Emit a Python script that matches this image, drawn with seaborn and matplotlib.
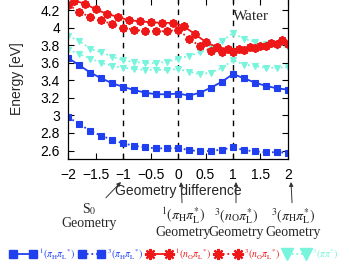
import matplotlib
matplotlib.use("Agg")
import matplotlib.pyplot as plt
import seaborn as sns
from matplotlib.lines import Line2D

# ---- data ----
x_even = [-2.0, -1.8, -1.6, -1.4, -1.2, -1.0, -0.8, -0.6, -0.4, -0.2, 0.0,
          0.2, 0.4, 0.6, 0.8, 1.0, 1.2, 1.4, 1.6, 1.8, 2.0]
x_odd = [-1.9, -1.7, -1.5, -1.3, -1.1, -0.9, -0.7, -0.5, -0.3, -0.1,
         0.1, 0.3, 0.5, 0.7, 0.9, 1.1, 1.3, 1.5, 1.7, 1.9]

s_pipi = [3.655, 3.572, 3.489, 3.424, 3.367, 3.326, 3.29, 3.26, 3.242, 3.242, 3.25,
          3.227, 3.26, 3.318, 3.386, 3.473, 3.424, 3.375, 3.337, 3.31, 3.295]
t_pipi = [2.98, 2.90, 2.825, 2.768, 2.723, 2.68, 2.655, 2.636, 2.625, 2.625, 2.628,
          2.605, 2.59, 2.595, 2.61, 2.636, 2.605, 2.59, 2.58, 2.58, 2.575]
s_npi = [4.31, 4.277, 4.21, 4.16, 4.125, 4.087, 4.076, 4.064, 4.057, 4.057,
         4.02, 3.93, 3.84, 3.78, 3.76, 3.76, 3.78, 3.79, 3.83, 3.86]
t_npi = [4.265, 4.18, 4.125, 4.087, 4.04, 4.0, 3.98, 3.962, 3.962, 3.962, 3.98,
         3.875, 3.79, 3.735, 3.73, 3.73, 3.75, 3.77, 3.79, 3.81, 3.82]
pipi_a = [3.905, 3.85, 3.76, 3.72, 3.67, 3.63, 3.61, 3.60, 3.60, 3.61, 3.65,
          3.68, 3.72, 3.77, 3.85, 3.94, 3.875, 3.84, 3.81, 3.79, 3.78]
pipi_b = [3.75, 3.70, 3.65, 3.60, 3.565, 3.545, 3.53, 3.52, 3.52, 3.52, 3.53,
          3.50, 3.47, 3.49, 3.545, 3.63, 3.58, 3.565, 3.545, 3.545, 3.55]

labels = [r"$^1(\pi_{\rm H}\pi_{\rm L}{}^{*})$", r"$^3(\pi_{\rm H}\pi_{\rm L}{}^{*})$",
          r"$^1(n_{\rm O}\pi_{\rm L}{}^{*})$", r"$^3(n_{\rm O}\pi_{\rm L}{}^{*})$",
          r"$^3(\pi\pi^{*})$"]
xticks = [-2, -1.5, -1, -0.5, 0, 0.5, 1, 1.5, 2]
yticks = [2.6, 2.8, 3.0, 3.2, 3.4, 3.6, 3.8, 4.0, 4.2]
vlines = [-1, 0, 1]

BLUE = "#2040f0"
RED = "#ee1818"
CYAN = "#78f4dc"
DOT = (0, (1, 1.6))
STAR = (8, 2, 0)

sns.set_theme(style="ticks")
plt.rcParams["font.family"] = ["Liberation Sans", "DejaVu Sans"]
plt.rcParams["mathtext.fontset"] = "stix"

fig = plt.figure(figsize=(3.49, 2.65), dpi=100)
ax = fig.add_axes([0.196, 0.399, 0.629, 0.605])

for xv in vlines:
    ax.axvline(xv, color="black", ls=(0, (4, 4)), lw=1.0, zorder=1)


def draw(xs, ys, color, ls, marker, ms, mew=0.8):
    sns.lineplot(x=xs, y=ys, color=color, ax=ax, legend=False)
    ln = ax.lines[-1]
    ln.set_linestyle(ls)
    ln.set_linewidth(1.3)
    ln.set_marker(marker)
    ln.set_markersize(ms)
    ln.set_markerfacecolor(color)
    ln.set_markeredgecolor(color)
    ln.set_markeredgewidth(mew)


draw(x_even, pipi_a, CYAN, DOT, "v", 5)
draw(x_even, pipi_b, CYAN, DOT, "v", 5)
draw(x_even, s_pipi, BLUE, "-", "s", 5)
draw(x_even, t_pipi, BLUE, DOT, "s", 5)
draw(x_odd, s_npi, RED, "-", STAR, 6, 1.5)
draw(x_even, t_npi, RED, DOT, STAR, 6, 1.5)

ax.set_xlim(-2, 2)
ax.set_ylim(2.5, 4.33)
ax.set_xticks(xticks)
ax.set_yticks(yticks)
ax.xaxis.set_major_formatter(matplotlib.ticker.FuncFormatter(
    lambda v, p: ("%g" % v).replace("-", "\u2212")))
ax.yaxis.set_major_formatter(matplotlib.ticker.FuncFormatter(lambda v, p: "%g" % v))
ax.tick_params(direction="in", top=True, right=True, length=4, width=0.8,
               labelsize=10, pad=6, colors="black")
for s in ax.spines.values():
    s.set_linewidth(0.9)
    s.set_color("black")
ax.set_ylabel("Energy [eV]", fontsize=10, labelpad=12)
ax.set_xlabel("Geometry difference", fontsize=10, labelpad=2)

ax.text(0.83, 0.89, "Water", transform=ax.transAxes, fontsize=11,
        family="Liberation Serif", ha="center", va="center")

# annotations below the axis
ann_kw = dict(xycoords="figure pixels", textcoords="figure pixels",
              ha="center", va="top", fontsize=10, family="Liberation Serif",
              linespacing=1.0,
              arrowprops=dict(arrowstyle="-|>", lw=0.7, color="#333333",
                              mutation_scale=6, shrinkA=0, shrinkB=0))
ax.annotate("S$_0$\nGeometry", xy=(121, 265 - 182), xytext=(89, 265 - 201),
            **ann_kw)
ax.annotate(r"$^1(\pi_{\rm H}\pi^{*}_{\rm L})$" + "\nGeometry",
            xy=(181, 265 - 182), xytext=(183, 265 - 206), **ann_kw)
ax.annotate(r"$^3(n_{\rm O}\pi^{*}_{\rm L})$" + "\nGeometry",
            xy=(236, 265 - 182), xytext=(236, 265 - 206), **ann_kw)
ax.annotate(r"$^3(\pi_{\rm H}\pi^{*}_{\rm L})$" + "\nGeometry",
            xy=(291, 265 - 182), xytext=(293, 265 - 206), **ann_kw)

# legend
handles = [
    Line2D([], [], color=BLUE, lw=1.3, marker="s", ms=6),
    Line2D([], [], color=BLUE, lw=1.3, ls=DOT, marker="s", ms=6),
    Line2D([], [], color=RED, lw=1.3, marker=STAR, ms=8, mew=1.6),
    Line2D([], [], color=RED, lw=1.3, ls=DOT, marker=STAR, ms=8, mew=1.6),
    Line2D([], [], color=CYAN, lw=1.3, ls=DOT, marker="v", ms=9),
]
leg = fig.legend(handles, labels, loc="center", bbox_to_anchor=(0.5, 1 - 254 / 265),
                 ncol=5, frameon=False, fontsize=7, numpoints=2,
                 handlelength=2.6, handletextpad=0.3, columnspacing=0.4,
                 labelcolor=[BLUE, BLUE, RED, RED, CYAN])

fig.savefig("out.png", dpi=100)
